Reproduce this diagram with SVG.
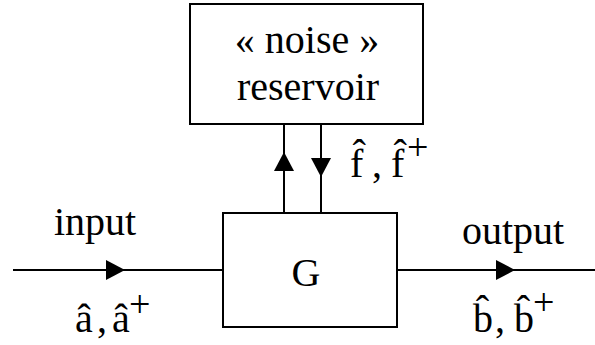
<svg xmlns="http://www.w3.org/2000/svg" width="595" height="345" viewBox="0 0 595 345">
<style>
.box{fill:#fff;stroke:#000;stroke-width:2}
.ln{fill:none;stroke:#000;stroke-width:2;marker-mid:url(#ah)}
text{font-family:"Liberation Serif","Times New Roman",serif;font-size:40px;fill:#000}
.sup{font-size:38px}
</style>
<defs>
<marker id="ah" markerUnits="userSpaceOnUse" markerWidth="20" markerHeight="20" refX="19" refY="10" orient="auto">
<path d="M0,0 L19,10 L0,20 z" fill="#000"/>
</marker>
</defs>
<rect width="595" height="345" fill="#fff"/>
<g id="connectors">
<path class="ln" d="M13,270 L125,270 L223,270"/>
<path class="ln" d="M397,270 L515,270 L595,270"/>
<path class="ln" d="M284,213 L284,152 L284,124"/>
<path class="ln" d="M321,124 L321,177 L321,213"/>
</g>
<g id="reservoir">
<rect class="box" x="190" y="4" width="233" height="120"/>
<text x="307" y="53" text-anchor="middle" font-size="41">« noise »</text>
<text x="308" y="100" text-anchor="middle" font-size="41">reservoir</text>
</g>
<g id="G">
<rect class="box" x="223" y="213" width="174" height="114"/>
<text x="306" y="286" text-anchor="middle" font-size="54">G</text>
</g>
<g id="labels">
<text x="54" y="235" font-size="41">input</text>
<text x="462" y="244" font-size="41">output</text>
<text x="75" y="332">â<tspan x="97">,</tspan><tspan x="112">â</tspan><tspan class="sup" x="129" dy="-15">+</tspan></text>
<text x="350" y="177">f̂<tspan x="372">,</tspan><tspan x="391">f̂</tspan><tspan class="sup" x="407" dy="-17">+</tspan></text>
<text x="473" y="332">b̂<tspan x="495">,</tspan><tspan x="514">b̂</tspan><tspan class="sup" x="533" dy="-17">+</tspan></text>
</g>
</svg>
